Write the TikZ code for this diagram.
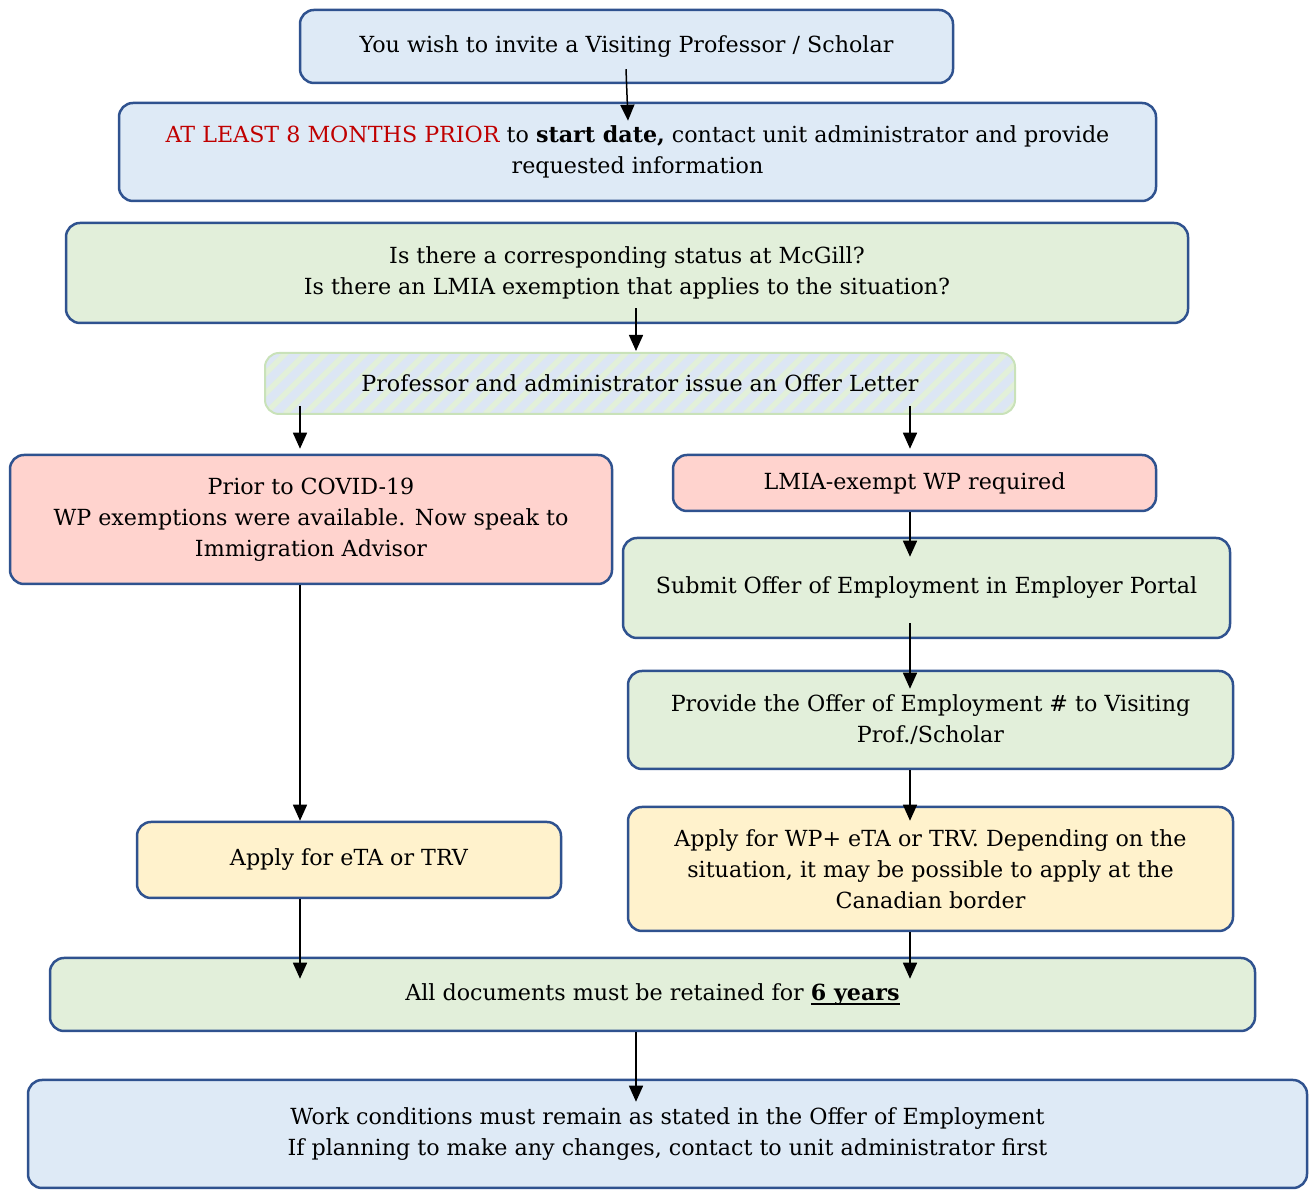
\documentclass[tikz,border=0pt]{standalone}
\usepackage{fontspec}
\setmainfont{DejaVu Serif}
\usetikzlibrary{arrows.meta,calc}
\definecolor{bluefill}{HTML}{DEEAF6}
\definecolor{greenfill}{HTML}{E2EFDA}
\definecolor{redfill}{HTML}{FFD3CE}
\definecolor{yellowfill}{HTML}{FFF2CC}
\definecolor{boxborder}{HTML}{2F528F}
\definecolor{redtext}{HTML}{C00000}
\definecolor{hatchblue}{HTML}{DCE6F4}
\definecolor{hatchgreen}{HTML}{E2F0D9}
\definecolor{hatchborder}{HTML}{C9E2B9}
\newcommand\thickul[1]{\setbox0\hbox{#1}\rlap{\rule[-4.5pt]{\wd0}{1.8pt}}\box0}
\tikzset{
  box/.style={draw=boxborder, line width=2.5pt, rounded corners=14pt, align=center,
    inner sep=0pt, font=\fontsize{22.2}{31}\selectfont, text=black},
  arr/.style={line width=1.5pt, -{Triangle[width=14pt,length=16pt]}},
}
\begin{document}
\begin{tikzpicture}[x=1pt,y=1pt]
\useasboundingbox (0,0) rectangle (1309,1190);
% nodes (centers at (cx, 1190-cy))
\node[box, fill=bluefill, minimum width=653pt, minimum height=73pt] (b1) at (626.5,1143.5)
  {You wish to invite a Visiting Professor / Scholar};
\node[box, fill=bluefill, minimum width=1037pt, minimum height=98pt] (b2) at (637.5,1038)
  {{\color{redtext}AT LEAST 8 MONTHS PRIOR} to \textbf{start date,} contact unit administrator and provide\\requested information};
\node[box, fill=greenfill, minimum width=1122pt, minimum height=100pt] (b3) at (627,917)
  {Is there a corresponding status at McGill?\\Is there an LMIA exemption that applies to the situation?};
\node[box, draw=hatchborder, line width=2pt, fill=hatchblue, minimum width=750pt, minimum height=61pt,
  path picture={\foreach \i in {-80,-60,...,800}{\draw[line width=5.5pt,hatchgreen]
    ([xshift=\i pt]path picture bounding box.south west) -- ++(80pt,80pt);}}] (b4) at (640,806.5)
  {Professor and administrator issue an Offer Letter};
\node[box, fill=redfill, minimum width=602pt, minimum height=129pt] (b5) at (311,670.5)
  {Prior to COVID-19\\WP exemptions were available. Now speak to\\Immigration Advisor};
\node[box, fill=redfill, minimum width=483pt, minimum height=56pt] (b6) at (914.5,707)
  {LMIA-exempt WP required};
\node[box, fill=greenfill, minimum width=607pt, minimum height=100pt] (b7) at (926.5,602)
  {Submit Offer of Employment in Employer Portal};
\node[box, fill=greenfill, minimum width=605pt, minimum height=98pt] (b8) at (930.5,470)
  {Provide the Offer of Employment \# to Visiting\\Prof./Scholar};
\node[box, fill=yellowfill, minimum width=424pt, minimum height=76pt] (b9) at (349,330)
  {Apply for eTA or TRV};
\node[box, fill=yellowfill, minimum width=605pt, minimum height=124pt] (b10) at (930.5,321)
  {Apply for WP+ eTA or TRV. Depending on the\\situation, it may be possible to apply at the\\Canadian border};
\node[box, fill=greenfill, minimum width=1205pt, minimum height=73pt] (b11) at (652.5,195.5)
  {All documents must be retained for \thickul{\textbf{6 years}}};
\node[box, fill=bluefill, minimum width=1279pt, minimum height=108pt] (b12) at (667.5,56)
  {Work conditions must remain as stated in the Offer of Employment\\If planning to make any changes, contact to unit administrator first};
% connectors
\draw[arr] ([xshift=-0.5pt,yshift=15pt]b1.south) -- ([xshift=-9.5pt,yshift=-19pt]b2.north);
\draw[arr] ([xshift=9pt,yshift=16pt]b3.south) -- ([xshift=-4pt,yshift=1pt]b4.north);
\draw[arr] ([xshift=-340pt,yshift=9pt]b4.south) -- ([xshift=-11pt,yshift=5pt]b5.north);
\draw[arr] ([xshift=270pt,yshift=9pt]b4.south) -- ([xshift=-4.5pt,yshift=5pt]b6.north);
\draw[arr] ([xshift=-4.5pt]b6.south) -- ([xshift=-16.5pt,yshift=-20pt]b7.north);
\draw[arr] ([xshift=-16.5pt,yshift=16pt]b7.south) -- ([xshift=-20.5pt,yshift=-19pt]b8.north);
\draw[arr] ([xshift=-20.5pt]b8.south) -- ([xshift=-20.5pt,yshift=-15pt]b10.north);
\draw[arr] ([xshift=-11pt]b5.south) -- ([xshift=-49pt]b9.north);
\draw[arr] ([xshift=-49pt]b9.south) -- ([xshift=-352.5pt,yshift=-22pt]b11.north);
\draw[arr] ([xshift=-20.5pt]b10.south) -- ([xshift=257.5pt,yshift=-22pt]b11.north);
\draw[arr] ([xshift=-16.5pt]b11.south) -- ([xshift=-31.5pt,yshift=-23pt]b12.north);
\end{tikzpicture}
\end{document}
